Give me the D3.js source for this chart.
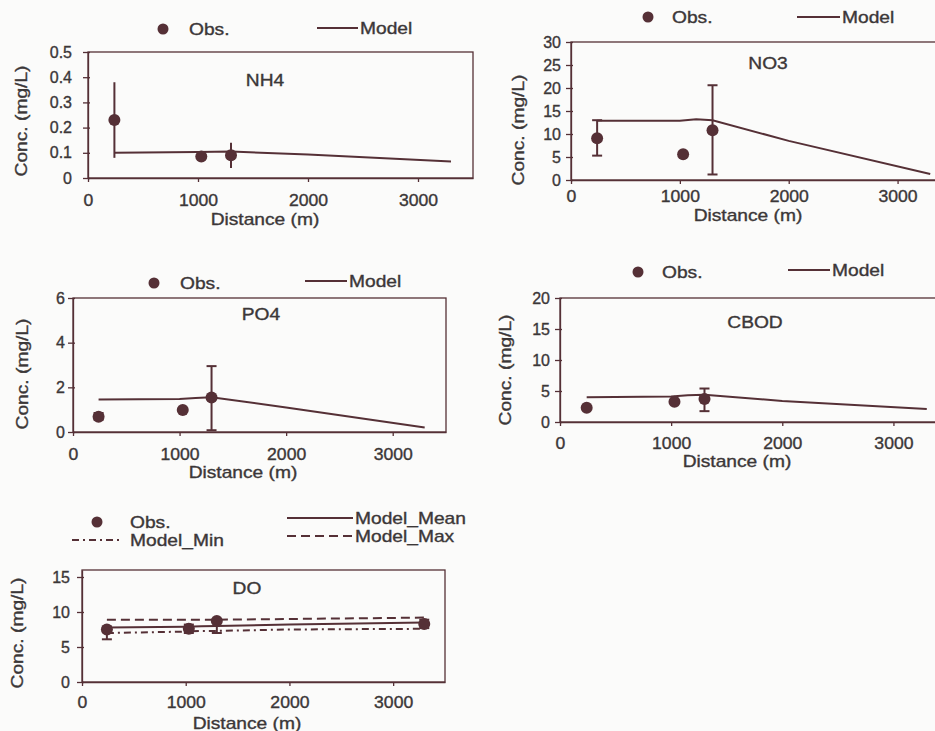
<!DOCTYPE html>
<html>
<head>
<meta charset="utf-8">
<script src="https://cdn.jsdelivr.net/npm/d3@7"></script>
<style>
  body { margin: 0; background: #fbfbfa; }
  svg { display: block; font-family: "Liberation Sans", Arial, sans-serif; }
  text { stroke: #3b3738; stroke-width: 0.35px; }
</style>
</head>
<body>
<script>
  'use strict'
  const w = 935
  const h = 731

  // distances (m)
  const xTicks = [0, 1000, 2000, 3000]
  const obsDist = [240, 1030, 1300]
  const doObsDist = [240, 1030, 1300, 3300]
  const modelDist = [240, 1000, 1150, 1300, 2000, 3300]

  // NH4
  const nh4Ticks = [0, 0.1, 0.2, 0.3, 0.4, 0.5]
  const nh4Obs = [0.23, 0.085, 0.09]
  const nh4Lo = [0.08, null, 0.04]
  const nh4Hi = [0.38, null, 0.14]
  const nh4Model = [0.10, 0.103, 0.104, 0.105, 0.093, 0.065]

  // NO3
  const no3Ticks = [0, 5, 10, 15, 20, 25, 30]
  const no3Obs = [9.1, 5.6, 10.8]
  const no3Lo = [5.3, null, 1.2]
  const no3Hi = [13.0, null, 20.6]
  const no3Model = [12.9, 12.9, 13.2, 13.0, 8.5, 1.3]

  // PO4
  const po4Ticks = [0, 2, 4, 6]
  const po4Obs = [0.68, 0.98, 1.55]
  const po4Lo = [0.55, null, 0.08]
  const po4Hi = [0.85, null, 2.95]
  const po4Model = [1.46, 1.48, 1.52, 1.56, 1.1, 0.2]

  // CBOD
  const cbodTicks = [0, 5, 10, 15, 20]
  const cbodObs = [2.3, 3.25, 3.7]
  const cbodLo = [null, null, 1.75]
  const cbodHi = [null, null, 5.4]
  const cbodModel = [4.0, 4.1, 4.3, 4.4, 3.4, 2.1]

  // DO
  const doTicks = [0, 5, 10, 15]
  const doObs = [7.5, 7.6, 8.7, 8.3]
  const doLo = [6.1, 7.0, 7.0, 7.7]
  const doHi = [7.9, 8.2, 8.9, 8.9]
  const doMean = [7.8, 7.9, 7.95, 8.0, 8.2, 8.5]
  const doMin = [7.0, 7.2, 7.3, 7.3, 7.5, 7.6]
  const doMax = [8.9, 8.9, 8.9, 8.9, 9.0, 9.2]

  const ink = '#553036'
  const textCol = '#3b3738'

  const svg = d3.select('body').append('svg')
    .attr('width', w)
    .attr('height', h)

  function txt (g, x, y, s, o) {
    o = o || {}
    return g.append('text')
      .attr('transform', 'translate(' + x + ',' + y + ')' + (o.rot ? ' rotate(-90)' : '') + ' scale(' + (o.sx || 1.2) + ',1)')
      .attr('text-anchor', o.anchor || 'start')
      .attr('dy', '0.35em')
      .attr('font-size', o.size || 16)
      .attr('fill', textCol)
      .text(s)
  }

  const panels = [
    { name: 'NH4', obsX: obsDist, obs: nh4Obs, lo: nh4Lo, hi: nh4Hi, yMax: 0.5, yTicks: nh4Ticks,
      models: [{ v: nh4Model }],
      left: 88, right: 473, top: 52, bottom: 178, yPad: 11, xPad: 13, cap: 0,
      title: [265, 80], xLab: [265, 219], yLab: [21, 121],
      legend: [
        { kind: 'dot', x: 163, y: 29, tx: 189, label: 'Obs.' },
        { kind: 'line', x1: 317, x2: 358, y: 28, tx: 360, label: 'Model' }
      ] },
    { name: 'NO3', obsX: obsDist, obs: no3Obs, lo: no3Lo, hi: no3Hi, yMax: 30, yTicks: no3Ticks,
      models: [{ v: no3Model }],
      left: 571, right: 952, top: 42, bottom: 180, yPad: 5, xPad: 7, cap: 10,
      title: [768, 63], xLab: [748, 215], yLab: [518, 130],
      legend: [
        { kind: 'dot', x: 648, y: 17, tx: 672, label: 'Obs.' },
        { kind: 'line', x1: 797, x2: 840, y: 17, tx: 842, label: 'Model' }
      ] },
    { name: 'PO4', obsX: obsDist, obs: po4Obs, lo: po4Lo, hi: po4Hi, yMax: 6, yTicks: po4Ticks,
      models: [{ v: po4Model }],
      left: 73, right: 446, top: 298, bottom: 432, yPad: 3, xPad: 13, cap: 10,
      title: [261, 314], xLab: [243, 472], yLab: [22, 374],
      legend: [
        { kind: 'dot', x: 154, y: 283, tx: 180, label: 'Obs.' },
        { kind: 'line', x1: 305, x2: 347, y: 281, tx: 349, label: 'Model' }
      ] },
    { name: 'CBOD', obsX: obsDist, obs: cbodObs, lo: cbodLo, hi: cbodHi, yMax: 20, yTicks: cbodTicks,
      models: [{ v: cbodModel }],
      left: 560, right: 949, top: 298, bottom: 422, yPad: 5, xPad: 12, cap: 10,
      title: [755, 322], xLab: [737, 461], yLab: [505, 370],
      legend: [
        { kind: 'dot', x: 638, y: 272, tx: 662, label: 'Obs.' },
        { kind: 'line', x1: 788, x2: 830, y: 270, tx: 832, label: 'Model' }
      ] },
    { name: 'DO', obsX: doObsDist, obs: doObs, lo: doLo, hi: doHi, yMax: 16, yTicks: doTicks,
      models: [{ v: doMean }, { v: doMax, dash: '9,5' }, { v: doMin, dash: '7,4,2,4' }],
      left: 82, right: 445, top: 570, bottom: 682, yPad: 7, xPad: 11, cap: 10,
      title: [247, 588], xLab: [247, 723], yLab: [17, 633],
      legend: [
        { kind: 'dot', x: 97, y: 522, tx: 130, label: 'Obs.' },
        { kind: 'line', x1: 72, x2: 123, y: 540, tx: 130, label: 'Model_Min', dash: '7,4,2,4' },
        { kind: 'line', x1: 287, x2: 353, y: 518, tx: 355, label: 'Model_Mean' },
        { kind: 'line', x1: 287, x2: 353, y: 536, tx: 355, label: 'Model_Max', dash: '9,5' }
      ] }
  ]

  panels.forEach(drawPanel)

  function drawPanel (p) {
    const x = d3.scaleLinear().domain([0, 3500]).range([p.left, p.right])
    const y = d3.scaleLinear().domain([0, p.yMax]).range([p.bottom, p.top])
    const g = svg.append('g')

    g.append('rect')
      .attr('x', p.left)
      .attr('y', p.top)
      .attr('width', p.right - p.left)
      .attr('height', p.bottom - p.top)
      .attr('fill', 'none')
      .attr('stroke', ink)
      .attr('stroke-width', 1.3)

    const ya = g.append('g')
      .attr('transform', 'translate(' + p.left + ',0)')
      .call(d3.axisLeft(y).tickValues(p.yTicks).tickSize(5).tickSizeOuter(0).tickPadding(p.yPad).tickFormat(d3.format('')))
    ya.selectAll('.tick line').attr('x1', 2)

    const xa = g.append('g')
      .attr('transform', 'translate(0,' + p.bottom + ')')
      .call(d3.axisBottom(x).tickValues(xTicks).tickSize(4).tickSizeOuter(0).tickPadding(p.xPad).tickFormat(d3.format('')))
    xa.selectAll('.tick text').attr('transform', 'scale(1.1,1)')

    g.selectAll('.domain, .tick line').attr('stroke', ink).attr('stroke-width', 1.3)
    g.selectAll('.tick text')
      .attr('font-size', 16)
      .attr('font-family', '"Liberation Sans", Arial, sans-serif')
      .attr('fill', textCol)

    // model lines
    const line = d3.line()
      .x((d, i) => x(modelDist[i]))
      .y(d => y(d))
    p.models.forEach(m => {
      g.append('path')
        .attr('d', line(m.v))
        .attr('fill', 'none')
        .attr('stroke', ink)
        .attr('stroke-width', 2)
        .attr('stroke-dasharray', m.dash || null)
    })

    // error bars
    p.obs.forEach((v, i) => {
      if (p.lo[i] == null) return
      const cx = x(p.obsX[i])
      g.append('line')
        .attr('x1', cx).attr('x2', cx)
        .attr('y1', y(p.lo[i])).attr('y2', y(p.hi[i]))
        .attr('stroke', ink).attr('stroke-width', 2)
      if (p.cap) {
        [p.lo[i], p.hi[i]].forEach(e => {
          g.append('line')
            .attr('x1', cx - p.cap / 2).attr('x2', cx + p.cap / 2)
            .attr('y1', y(e)).attr('y2', y(e))
            .attr('stroke', ink).attr('stroke-width', 2)
        })
      }
    })

    g.selectAll('circle.obs')
      .data(p.obs)
      .enter().append('circle')
      .attr('class', 'obs')
      .attr('cx', (d, i) => x(p.obsX[i]))
      .attr('cy', d => y(d))
      .attr('r', 6)
      .attr('fill', ink)

    txt(g, p.title[0], p.title[1], p.name, { anchor: 'middle' })
    txt(g, p.xLab[0], p.xLab[1], 'Distance (m)', { anchor: 'middle' })
    txt(g, p.yLab[0], p.yLab[1], 'Conc. (mg/L)', { anchor: 'middle', rot: true })

    p.legend.forEach(l => {
      if (l.kind === 'dot') {
        g.append('circle').attr('cx', l.x).attr('cy', l.y).attr('r', 5.5).attr('fill', ink)
      } else {
        g.append('line')
          .attr('x1', l.x1).attr('x2', l.x2)
          .attr('y1', l.y).attr('y2', l.y)
          .attr('stroke', ink).attr('stroke-width', 2)
          .attr('stroke-dasharray', l.dash || null)
      }
      txt(g, l.tx, l.y, l.label)
    })
  }
</script>
</body>
</html>
